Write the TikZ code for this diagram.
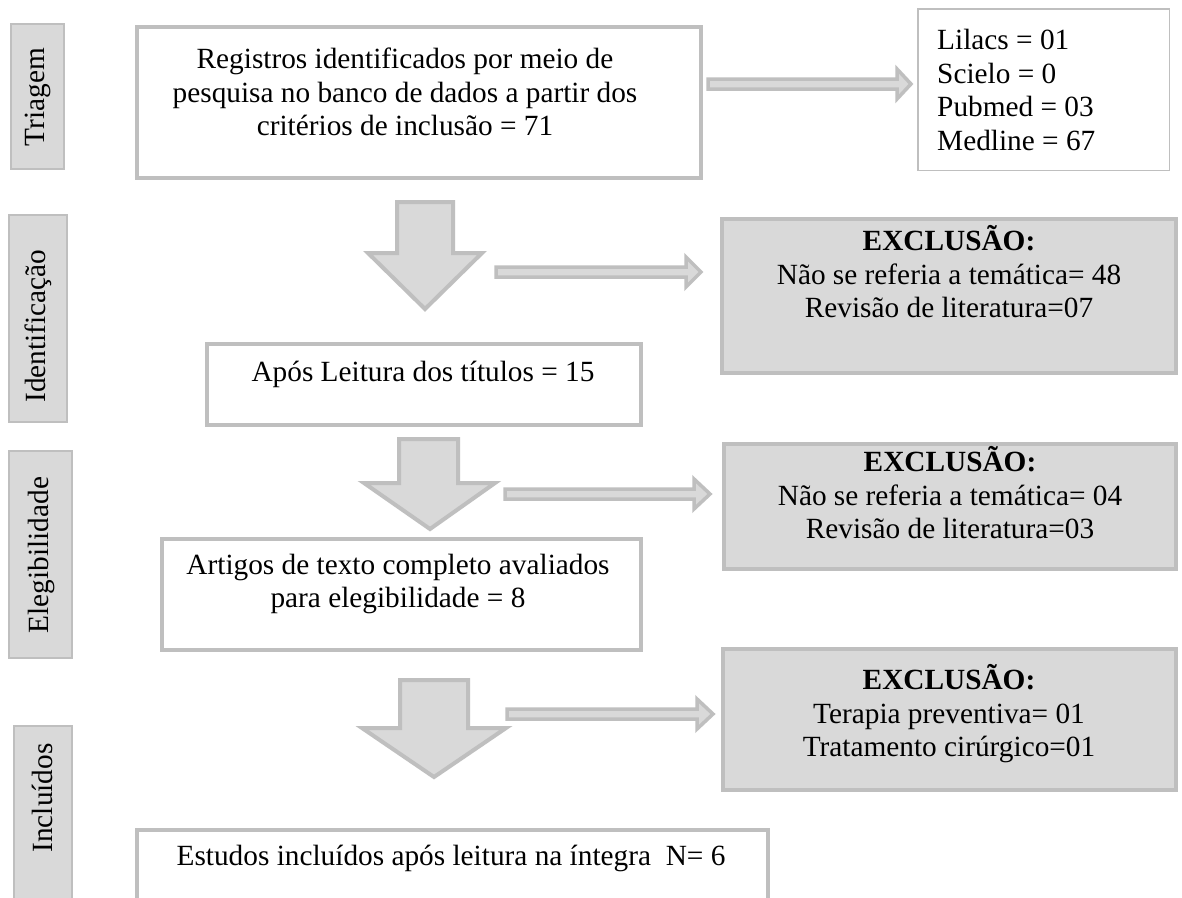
\documentclass[tikz,border=0pt]{standalone}
\usepackage{fontspec}
\setmainfont{Liberation Serif}
\definecolor{bordgray}{HTML}{BFBFBF}
\definecolor{fillgray}{HTML}{D9D9D9}
\newcommand\hblock[4]{% x0, y, headstart, tip
  \draw[thinarrow] (#1,#2-5) -- (#3,#2-5) -- (#3,#2-15) -- (#4,#2) -- (#3,#2+15) -- (#3,#2+5) -- (#1,#2+5) -- cycle;}
\newcommand\vblock[8]{% sx1, sx2, top, heady, hx1, hx2, tipx, tipy
  \draw[blockarrow] (#1,#3) -- (#2,#3) -- (#2,#4) -- (#6,#4) -- (#7,#8) -- (#5,#4) -- (#1,#4) -- cycle;}
\tikzset{
  mainbox/.style={draw=bordgray, line width=4pt, rectangle, inner sep=0pt, fill=white},
  exclbox/.style={mainbox, fill=fillgray},
  srcbox/.style={draw=bordgray, line width=1.5pt, rectangle, inner sep=0pt, fill=white},
  labbox/.style={draw=bordgray, line width=2pt, fill=fillgray, rectangle, inner sep=0pt},
  txt/.style={font=\fontsize{29.3}{33.5}\selectfont, inner sep=0pt, align=center},
  blockarrow/.style={draw=bordgray, line width=4pt, fill=fillgray, line join=miter},
  thinarrow/.style={draw=bordgray, line width=3.5pt, fill=fillgray, line join=miter},
}
\begin{document}
\begin{tikzpicture}[x=1pt, y=-1pt]
\useasboundingbox (0,0) rectangle (1182,897);
\fill[white] (0,0) rectangle (1182,897);

% side labels
\node[labbox, minimum width=53pt, minimum height=145pt] (lab1) at (37.5,96.5) {};
\node[txt, rotate=90] (lab1t) at (38,97) {Triagem};
\node[labbox, minimum width=58pt, minimum height=207pt] (lab2) at (38,318.5) {};
\node[txt, rotate=90] (lab2t) at (38,326) {Identificação};
\node[labbox, minimum width=63pt, minimum height=207pt] (lab3) at (40.5,554.5) {};
\node[txt, rotate=90] (lab3t) at (41,555) {Elegibilidade};
\node[labbox, minimum width=58pt, minimum height=183pt] (lab4) at (43,817.5) {};
\node[txt, rotate=90] (lab4t) at (42,798) {Incluídos};

% main boxes
\node[mainbox, minimum width=564pt, minimum height=151pt] (b1) at (419,102.5) {};
\node[txt] (b1t) at (405,92) {Registros identificados por meio de\\pesquisa no banco de dados a partir dos\\critérios de inclusão = 71};

\node[srcbox, minimum width=251.5pt, minimum height=161.5pt] (src) at (1043.5,89.5) {};
\node[txt, align=left, anchor=west] (srct) at (937,90) {Lilacs = 01\\Scielo = 0\\Pubmed = 03\\Medline = 67};

\node[exclbox, minimum width=454pt, minimum height=154pt] (e1) at (949,296) {};
\node[txt] (e1t) at (949,272) {\textbf{EXCLUSÃO:}\\Não se referia a temática= 48\\Revisão de literatura=07};

\node[mainbox, minimum width=434pt, minimum height=81pt] (b2) at (424,384.5) {};
\node[txt] (b2t) at (423,374) {Após Leitura dos títulos = 15};

\node[exclbox, minimum width=452pt, minimum height=125pt] (e2) at (950,506.5) {};
\node[txt] (e2t) at (950,493) {\textbf{EXCLUSÃO:}\\Não se referia a temática= 04\\Revisão de literatura=03};

\node[mainbox, minimum width=479pt, minimum height=111pt] (b3) at (401.5,594.5) {};
\node[txt] (b3t) at (398,584) {Artigos de texto completo avaliados\\para elegibilidade = 8};

\node[exclbox, minimum width=453pt, minimum height=141pt] (e3) at (949.5,719.5) {};
\node[txt] (e3t) at (949,714) {\textbf{EXCLUSÃO:}\\Terapia preventiva= 01\\Tratamento cirúrgico=01};

\node[mainbox, minimum width=631pt, minimum height=78pt] (b4) at (452.5,869) {};
\node[txt] (b4t) at (451,858) {Estudos incluídos após leitura na íntegra\ \ N= 6};

% horizontal arrows
\hblock{708}{84}{897}{911}
\hblock{496}{272}{686}{701}
\hblock{505}{494}{694}{710}
\hblock{507}{714}{697}{713}

% down block arrows
\vblock{397}{453}{202}{253}{368}{482}{425}{309}
\vblock{399}{458}{439}{483}{364}{495}{430}{529}
\vblock{400}{468}{680}{728}{362}{506}{434}{777}
\end{tikzpicture}
\end{document}
